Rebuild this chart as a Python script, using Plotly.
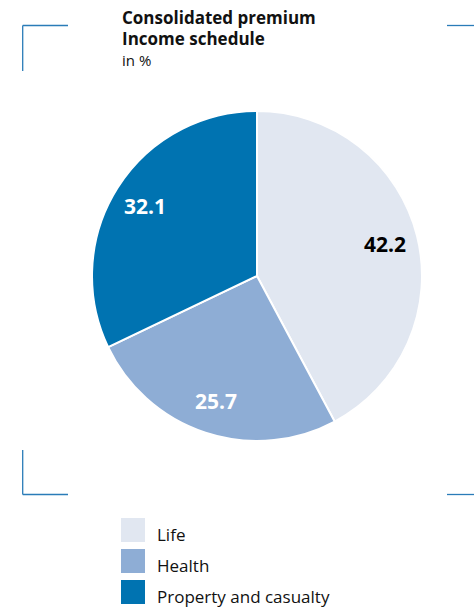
import math
import plotly.graph_objects as go

# ---- data ----
labels = ["Life", "Health", "Property and casualty"]
values = [42.2, 25.7, 32.1]
colors = ["#e1e7f1", "#8eadd5", "#0073b1"]
text_colors = ["#000000", "#ffffff", "#ffffff"]
title_lines = ["Consolidated premium", "Income schedule"]
subtitle = "in %"

W, H = 474, 613
FONT = "Open Sans"

def px(x):
    return x / W

def py(y):
    return 1 - y / H

# pie geometry (layout)
CX, CY, R = 257, 276, 165
LABEL_R = 0.8

fig = go.Figure()
fig.add_trace(go.Pie(
    labels=labels,
    values=values,
    sort=False,
    direction="clockwise",
    rotation=0,
    marker=dict(colors=colors, line=dict(color="white", width=2)),
    textinfo="none",
    domain=dict(x=[px(CX - R), px(CX + R)], y=[py(CY + R), py(CY - R)]),
    showlegend=False,
    hoverinfo="label+value",
))

shapes = []
annotations = []

# value labels at slice mid-angles
total = sum(values)
cum = 0.0
for v, tc in zip(values, text_colors):
    mid = (cum + v / 2) / total * 2 * math.pi
    cum += v
    x = CX + LABEL_R * R * math.sin(mid)
    y = CY - LABEL_R * R * math.cos(mid)
    annotations.append(dict(text="<b>%.1f</b>" % v, xref="paper", yref="paper",
                            x=px(x), y=py(y), xanchor="center", yanchor="middle",
                            showarrow=False, font=dict(family=FONT, size=21, color=tc)))

# corner brackets
line_col = "#2a7cb8"
def seg(x0, y0, x1, y1):
    shapes.append(dict(type="line", xref="paper", yref="paper",
                       x0=px(x0), y0=py(y0), x1=px(x1), y1=py(y1),
                       line=dict(color=line_col, width=1.3)))
seg(22.7, 25.5, 68, 25.5)
seg(22.7, 25.5, 22.7, 71)
seg(22.7, 450, 22.7, 494.5)
seg(22.7, 494.5, 68, 494.5)
seg(447, 25.5, 474, 25.5)
seg(447, 494.5, 474, 494.5)

# title
for i, t in enumerate(title_lines):
    annotations.append(dict(text="<b>%s</b>" % t, xref="paper", yref="paper",
                            x=px(120), y=py(31 + 21 * i), xanchor="left", yanchor="bottom",
                            showarrow=False, font=dict(family=FONT, size=17, color="#111111")))
annotations.append(dict(text=subtitle, xref="paper", yref="paper",
                        x=px(120), y=py(72), xanchor="left", yanchor="bottom",
                        showarrow=False, font=dict(family=FONT, size=15, color="#111111")))

# legend
for i, (lab, col) in enumerate(zip(labels, colors)):
    top = 518 + 31 * i
    shapes.append(dict(type="rect", xref="paper", yref="paper",
                       x0=px(121), x1=px(145), y0=py(top + 24), y1=py(top),
                       fillcolor=col, line=dict(width=0)))
    annotations.append(dict(text=lab, xref="paper", yref="paper",
                            x=px(155), y=py(top + 16), xanchor="left", yanchor="middle",
                            showarrow=False, font=dict(family=FONT, size=17, color="#111111")))

fig.update_layout(
    width=W, height=H,
    margin=dict(l=0, r=0, t=0, b=0),
    paper_bgcolor="white", plot_bgcolor="white",
    shapes=shapes, annotations=annotations,
)

fig.write_html("out.html", config={"displayModeBar": False})

# remove the default page margin so the figure fills the window exactly
with open("out.html", encoding="utf-8") as f:
    html = f.read()
html = html.replace("<head>", "<head><style>html,body{margin:0;padding:0;overflow:hidden;}</style>", 1)
with open("out.html", "w", encoding="utf-8") as f:
    f.write(html)
